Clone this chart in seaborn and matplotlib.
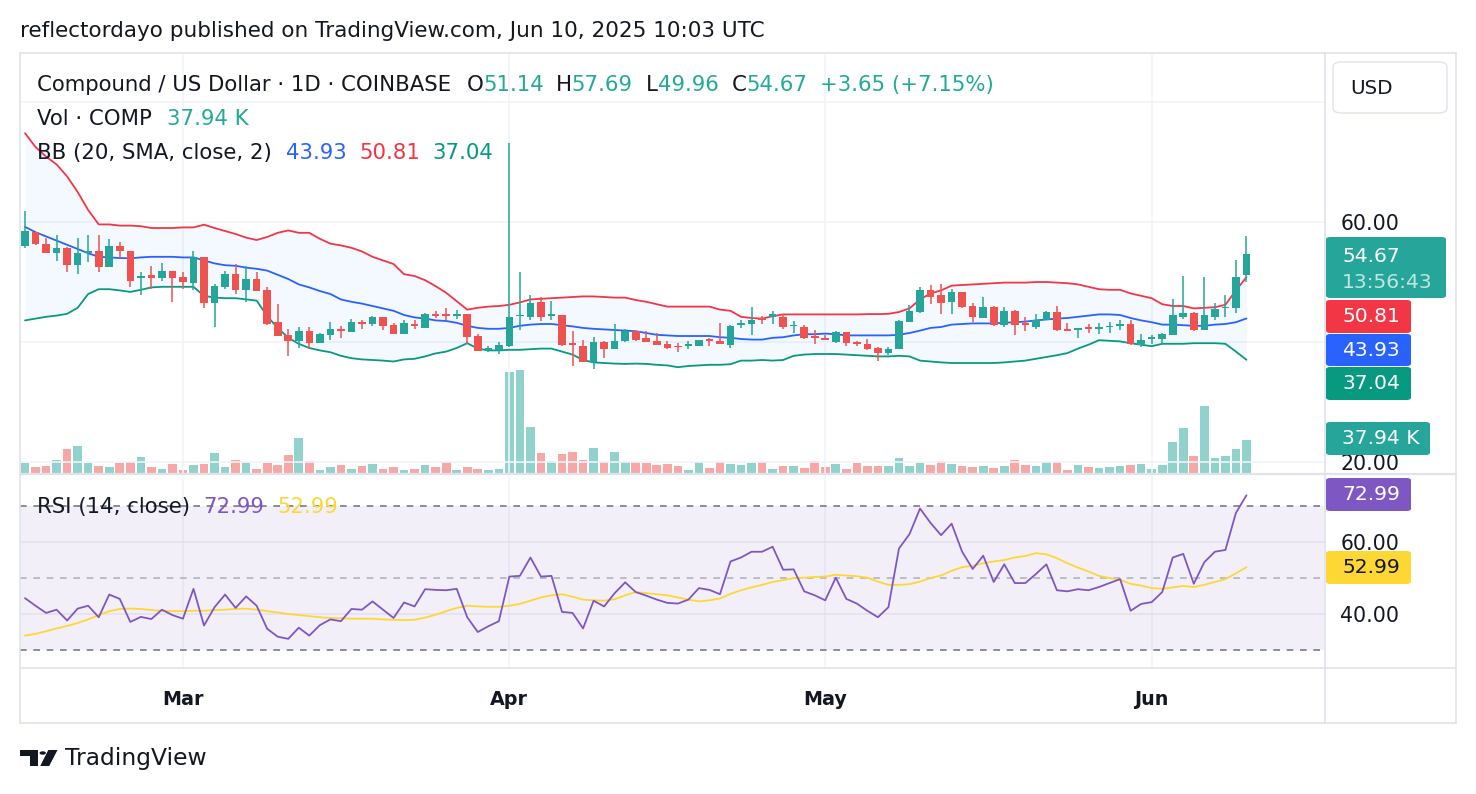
import numpy as np
import pandas as pd
import matplotlib
matplotlib.use("Agg")
import matplotlib.pyplot as plt
import seaborn as sns
from matplotlib.patches import FancyBboxPatch, Polygon, Circle
from matplotlib.lines import Line2D

# ---------------- data ----------------
start_date = "2025-02-14"
opens = [55.97, 58.3, 56.36, 54.8, 55.7, 52.77, 54.8, 55.1, 52.55, 56.08,
         55.2, 50.59, 51.2, 50.64, 51.9, 50.76, 49.9, 54.2, 46.55, 49.1,
         51.3, 48.6, 50.5, 48.6, 43.3, 41.1, 40.1, 41.8, 39.8, 41.2,
         42.1, 41.7, 43.3, 43.0, 44.1, 42.8, 41.4, 43.0, 42.35, 44.7,
         44.7, 44.4, 44.6, 40.95, 38.6, 38.6, 39.27, 44.3, 44.2, 46.67,
         44.4, 44.5, 39.8, 39.27, 36.75, 39.94, 38.9, 40.1, 41.8, 40.67,
         40.1, 39.66, 39.4, 39.4, 39.4, 40.5, 40.2, 39.55, 42.8, 43.0,
         44.0, 44.2, 44.15, 42.6, 42.46, 40.95, 40.67, 40.0, 41.6, 40.0,
         39.66, 38.99, 38.15, 38.8, 43.36, 44.99, 48.6, 47.84, 46.72, 48.35,
         45.99, 44.03, 45.88, 42.91, 45.15, 43.2, 42.46, 43.75, 44.99, 42.1,
         42.07, 42.5, 42.2, 42.5, 42.74, 43.0, 39.44, 40.5, 40.5, 41.24,
         44.2, 44.87, 41.96, 44.2, 45.6, 45.6, 51.14]
highs = [61.79, 58.4, 57.3, 57.9, 55.8, 57.3, 57.76, 57.76, 57.2, 56.75,
         55.2, 51.7, 52.7, 53.1, 51.9, 51.7, 55.2, 54.2, 49.6, 51.9,
         53.0, 52.7, 51.6, 49.1, 46.3, 42.2, 42.5, 42.5, 41.5, 43.3,
         42.75, 43.9, 43.75, 44.4, 44.1, 43.1, 43.75, 43.6, 44.9, 45.15,
         45.6, 45.4, 44.7, 41.3, 39.27, 40.0, 73.17, 51.7, 47.84, 47.5,
         46.8, 44.5, 41.8, 40.4, 40.8, 40.1, 43.0, 42.25, 41.9, 41.9,
         41.5, 40.2, 39.8, 40.1, 40.4, 40.67, 43.1, 42.9, 43.75, 45.8,
         44.3, 45.15, 44.6, 43.47, 42.9, 41.96, 41.2, 41.8, 41.6, 40.2,
         40.5, 39.1, 39.1, 43.75, 46.1, 49.19, 49.5, 49.64, 48.8, 48.35,
         46.44, 47.5, 45.99, 45.82, 45.3, 44.15, 44.7, 45.15, 45.99, 43.1,
         42.35, 43.0, 43.1, 43.36, 43.75, 43.64, 41.4, 41.1, 41.5, 47.1,
         50.92, 44.99, 50.76, 46.44, 47.84, 53.73, 57.69]
lows = [55.7, 56.2, 54.8, 53.56, 51.6, 51.4, 53.3, 51.6, 52.5, 53.95,
        49.1, 47.84, 48.9, 50.2, 46.7, 48.9, 48.6, 45.7, 42.5, 48.8,
        48.07, 46.7, 48.5, 42.9, 41.07, 37.7, 39.0, 38.9, 39.8, 40.4,
        40.7, 41.7, 42.2, 42.75, 41.96, 41.4, 41.4, 42.2, 42.35, 44.0,
        43.6, 43.9, 39.7, 38.43, 38.3, 38.04, 39.1, 42.07, 43.75, 43.47,
        43.6, 39.4, 36.0, 36.75, 35.5, 37.3, 38.9, 40.0, 40.1, 40.0,
        39.55, 38.8, 38.3, 38.9, 39.4, 39.27, 39.66, 39.0, 42.35, 41.1,
        43.0, 43.0, 42.24, 41.5, 40.5, 39.7, 40.4, 39.8, 39.4, 39.27,
        38.6, 36.9, 37.76, 38.8, 43.36, 44.87, 46.27, 44.6, 44.6, 45.7,
        43.36, 44.03, 42.63, 42.5, 41.2, 41.8, 42.2, 43.75, 41.8, 41.8,
        40.67, 41.5, 41.35, 41.5, 41.96, 39.55, 39.1, 39.66, 39.66, 41.24,
        43.86, 41.8, 41.96, 43.64, 44.2, 44.9, 49.96]
closes = [58.43, 56.3, 54.8, 55.6, 52.77, 54.8, 55.1, 52.55, 56.08, 55.1,
          50.2, 51.04, 50.64, 51.9, 50.64, 50.03, 54.1, 46.55, 49.36, 51.3,
          48.6, 50.5, 48.5, 43.0, 41.07, 40.2, 41.8, 39.8, 41.4, 42.2,
          41.8, 43.3, 43.0, 44.1, 42.75, 41.4, 43.2, 42.75, 44.6, 44.4,
          44.4, 44.7, 40.8, 38.43, 39.0, 39.55, 44.15, 44.5, 46.44, 44.2,
          44.7, 39.55, 39.5, 36.75, 39.94, 38.9, 40.2, 41.8, 40.4, 40.0,
          39.55, 39.0, 39.1, 39.66, 40.4, 40.2, 39.66, 42.63, 43.2, 43.64,
          43.64, 44.6, 42.46, 42.9, 40.67, 40.67, 40.4, 41.6, 39.83, 39.66,
          38.8, 38.15, 38.88, 43.47, 45.15, 48.68, 47.56, 46.55, 48.35, 45.88,
          44.2, 45.82, 42.91, 45.15, 42.91, 42.9, 43.75, 44.99, 41.96, 41.8,
          42.35, 42.2, 42.46, 42.74, 43.0, 39.7, 40.4, 40.78, 41.35, 44.5,
          44.76, 41.96, 44.48, 45.43, 45.88, 50.87, 54.67]
volume_k = [12.4, 7.5, 8.6, 16.1, 28.1, 31.1, 12.4, 8.6, 7.5, 12.4,
            13.1, 19.1, 7.5, 6.0, 11.3, 4.1, 9.8, 11.3, 23.6, 7.5,
            15.4, 12.4, 6.0, 12.4, 9.8, 21.0, 40.5, 14.3, 4.9, 7.5,
            9.8, 6.0, 8.6, 11.3, 6.0, 7.5, 4.1, 6.0, 9.8, 7.5,
            13.1, 4.1, 7.5, 5.6, 4.1, 6.0, 114.4, 116.6, 52.5, 23.6,
            14.3, 22.5, 24.4, 16.1, 29.3, 13.1, 24.4, 13.1, 13.1, 12.4,
            9.8, 11.3, 8.6, 4.1, 13.1, 6.8, 13.1, 11.3, 9.8, 12.4,
            13.1, 5.6, 8.6, 8.6, 6.8, 14.3, 7.5, 11.3, 5.6, 12.4,
            8.6, 8.6, 8.6, 18.0, 8.6, 12.4, 9.8, 14.3, 11.3, 8.6,
            7.5, 8.6, 6.8, 8.6, 15.4, 9.8, 8.6, 13.1, 13.1, 4.1,
            9.8, 7.5, 6.8, 7.5, 8.6, 9.8, 11.3, 5.6, 9.8, 35.6,
            51.8, 19.9, 76.1, 18.0, 19.9, 28.1, 37.94]
bb_upper = [74.8, 72.5, 70.9, 69.6, 67.6, 65.0, 62.0, 59.6, 59.6, 59.4,
            59.4, 59.3, 59.0, 59.0, 59.0, 59.1, 59.1, 59.55, 59.0, 58.5,
            58.0, 57.4, 57.0, 57.5, 58.2, 58.6, 58.2, 58.2, 57.2, 56.4,
            56.1, 55.7, 55.1, 54.2, 53.6, 53.0, 51.3, 51.0, 50.3, 49.3,
            48.2, 46.8, 45.4, 45.7, 45.9, 46.0, 46.2, 46.6, 47.1, 47.2,
            47.3, 47.4, 47.5, 47.6, 47.6, 47.5, 47.4, 47.4, 47.0, 46.7,
            46.3, 45.9, 45.9, 45.9, 45.9, 45.9, 45.4, 45.2, 44.2, 44.0,
            43.9, 44.3, 44.6, 44.6, 44.6, 44.6, 44.6, 44.6, 44.6, 44.6,
            44.65, 44.65, 44.7, 45.0, 45.6, 47.1, 48.1, 48.6, 49.4, 49.5,
            49.6, 49.7, 49.8, 49.9, 49.9, 49.9, 50.0, 50.0, 49.9, 49.8,
            49.6, 49.2, 48.8, 48.7, 48.7, 48.1, 47.7, 47.3, 46.3, 46.0,
            46.0, 45.6, 45.7, 45.8, 46.2, 48.6, 50.81]
bb_basis = [59.2, 58.3, 57.6, 56.9, 56.2, 55.5, 54.8, 54.2, 54.1, 54.0,
            53.95, 54.1, 54.2, 54.2, 54.2, 54.1, 54.1, 53.6, 53.1, 52.8,
            52.7, 52.4, 52.2, 51.9, 51.2, 50.5, 49.6, 49.1, 48.5, 48.0,
            47.1, 46.7, 46.4, 46.0, 45.6, 45.2, 44.5, 44.1, 43.9, 43.6,
            43.5, 43.2, 42.7, 42.35, 42.2, 42.2, 42.35, 42.7, 42.9, 43.0,
            43.0, 42.8, 42.6, 42.35, 42.2, 42.1, 42.0, 41.9, 41.8, 41.5,
            41.2, 41.1, 41.0, 41.0, 41.0, 41.0, 40.8, 40.7, 40.5, 40.4,
            40.4, 40.7, 40.8, 41.1, 41.3, 41.3, 41.4, 41.3, 41.1, 41.1,
            41.1, 41.1, 41.1, 41.2, 41.5, 41.9, 42.35, 42.5, 42.9, 43.0,
            43.1, 43.1, 43.1, 43.2, 43.3, 43.4, 43.6, 43.75, 43.9, 44.0,
            44.2, 44.4, 44.6, 44.6, 44.5, 44.0, 43.6, 43.3, 42.9, 42.9,
            42.8, 42.7, 42.7, 42.9, 43.0, 43.3, 43.93]
bb_lower = [43.6, 43.9, 44.2, 44.4, 44.7, 45.7, 48.0, 48.8, 48.8, 48.6,
            48.35, 48.7, 49.1, 49.2, 49.2, 49.2, 49.2, 47.7, 47.4, 47.3,
            47.3, 47.1, 46.9, 44.3, 42.35, 40.7, 39.7, 39.0, 38.6, 38.3,
            37.7, 37.3, 37.1, 37.0, 36.9, 36.75, 37.1, 37.2, 37.6, 38.1,
            38.4, 39.0, 39.8, 38.9, 38.6, 38.6, 38.7, 38.7, 38.8, 38.9,
            38.9, 38.4, 37.9, 37.0, 36.6, 36.5, 36.4, 36.35, 36.4, 36.35,
            36.2, 36.1, 35.8, 36.0, 36.1, 36.2, 36.2, 36.3, 36.9, 36.9,
            37.0, 36.9, 37.0, 37.7, 37.9, 38.0, 38.0, 38.0, 37.9, 37.8,
            37.7, 37.6, 37.6, 37.7, 37.6, 36.9, 36.75, 36.6, 36.5, 36.5,
            36.5, 36.5, 36.5, 36.6, 36.75, 36.9, 37.2, 37.5, 37.8, 38.15,
            38.9, 39.55, 40.3, 40.2, 40.1, 39.8, 39.55, 39.3, 39.7, 39.7,
            39.7, 39.8, 39.8, 39.8, 39.7, 38.4, 37.04]
rsi = [44.4, 42.3, 40.3, 41.2, 38.2, 41.5, 42.3, 39.1, 45.4, 44.2,
       37.8, 39.2, 38.6, 41.2, 39.7, 38.7, 47.0, 36.8, 41.9, 45.4,
       41.7, 44.9, 42.3, 35.9, 33.7, 33.1, 36.2, 34.0, 36.9, 38.5,
       38.0, 41.4, 41.2, 43.5, 41.2, 38.9, 43.2, 42.1, 46.9, 46.7,
       46.6, 47.0, 39.1, 35.0, 36.6, 38.0, 50.4, 50.6, 55.7, 50.4,
       50.6, 40.6, 40.3, 36.0, 43.7, 42.1, 45.8, 48.8, 46.1, 45.1,
       44.0, 43.1, 42.9, 44.0, 47.2, 46.7, 45.5, 54.6, 55.7, 57.3,
       57.3, 58.7, 52.3, 52.4, 46.3, 45.2, 43.8, 50.1, 44.2, 42.9,
       40.9, 39.1, 41.9, 58.2, 62.2, 69.3, 65.3, 61.9, 65.1, 57.3,
       52.5, 56.2, 48.9, 53.8, 48.6, 48.6, 51.1, 53.8, 46.6, 46.3,
       46.9, 46.6, 47.5, 48.6, 49.7, 40.9, 42.8, 43.3, 46.1, 55.7,
       56.7, 48.4, 54.4, 57.3, 57.8, 68.1, 72.99]
rsi_ma = [34.0, 34.5, 35.2, 36.0, 36.7, 37.5, 38.5, 39.7, 40.8, 41.4,
          41.5, 41.4, 41.1, 40.9, 40.8, 40.8, 40.9, 40.9, 41.1, 41.2,
          41.4, 41.5, 41.2, 40.8, 40.4, 40.0, 39.7, 39.4, 39.1, 38.9,
          38.8, 38.7, 38.7, 38.7, 38.5, 38.4, 38.3, 38.4, 39.0, 39.8,
          40.8, 41.7, 42.3, 42.1, 42.0, 42.0, 42.3, 42.8, 43.7, 44.6,
          45.2, 45.5, 44.8, 44.0, 43.8, 43.7, 44.1, 45.2, 46.1, 45.8,
          45.5, 45.2, 44.6, 44.0, 43.5, 43.8, 44.3, 45.6, 46.6, 47.4,
          48.1, 48.9, 49.4, 50.0, 50.1, 50.3, 50.4, 50.9, 50.7, 50.5,
          50.1, 49.0, 48.1, 48.1, 48.3, 49.0, 50.0, 50.7, 52.0, 53.0,
          53.4, 54.1, 54.6, 55.0, 55.7, 56.1, 56.9, 56.6, 55.5, 54.1,
          52.9, 51.8, 50.6, 50.0, 49.5, 48.4, 47.9, 47.2, 47.0, 47.4,
          47.8, 47.5, 48.1, 48.9, 49.7, 51.3, 52.99]
month_ticks = ["2025-03-01", "2025-04-01", "2025-05-01", "2025-06-01"]
month_labels = ["Mar", "Apr", "May", "Jun"]

# ---------------- styling ----------------
W, H = 1476, 794
UP, DOWN = "#26a69a", "#ef5350"
TXT = "#131722"
GRID = "#f0f3fa"
BORDER = "#e0e3eb"

sns.set_theme(style="white")
plt.rcParams['font.family'] = ['DejaVu Sans']
plt.rcParams['axes.linewidth'] = 0

df = pd.DataFrame({
    "date": pd.date_range(start_date, periods=len(closes), freq="D"),
    "open": opens, "high": highs, "low": lows, "close": closes,
    "vol": volume_k, "upper": bb_upper, "basis": bb_basis, "lower": bb_lower,
    "rsi": rsi, "rsi_ma": rsi_ma,
})
df["up"] = df["close"] >= df["open"]
df["color"] = np.where(df["up"], UP, DOWN)

fig = plt.figure(figsize=(W / 100, H / 100), dpi=100)
fig.patch.set_facecolor("white")


def fx(x):
    return x / W


def fy(y):
    return 1 - y / H


def rect(x0, y0, x1, y1):
    return [fx(x0), fy(y1), fx(x1) - fx(x0), fy(y0) - fy(y1)]


ax = fig.add_axes(rect(20, 53, 1325, 474))
axv = ax.twinx()
axr = fig.add_axes(rect(20, 474, 1325, 668), sharex=ax)
ax.set_zorder(3)
axv.set_zorder(2)
axr.set_zorder(2)
ax.patch.set_visible(False)

d0 = df["date"].iloc[0]
xmin = d0 - pd.Timedelta(days=0.475)
xmax = d0 + pd.Timedelta(days=123.46)

# volume
axv.bar(df["date"], df["vol"], width=0.82, color=df["color"], alpha=0.5, linewidth=0)
axv.set_ylim(0, 474)
axv.set_yticks([])
axv.grid(False)

# price grid
for v in [20, 40, 60, 80]:
    ax.axhline(v, color=GRID, lw=1.2, zorder=0)
for m in month_ticks:
    ax.axvline(pd.Timestamp(m), color=GRID, lw=1.2, zorder=0)
    axr.axvline(pd.Timestamp(m), color=GRID, lw=1.2, zorder=0)

# bollinger
ax.fill_between(df["date"], df["lower"], df["upper"], color="#2196f3", alpha=0.05, lw=0, zorder=1)
sns.lineplot(data=df, x="date", y="upper", ax=ax, color="#f23645", lw=1.3, zorder=2)
sns.lineplot(data=df, x="date", y="basis", ax=ax, color="#2962ff", lw=1.3, zorder=2)
sns.lineplot(data=df, x="date", y="lower", ax=ax, color="#089981", lw=1.3, zorder=2)

# candles
ax.vlines(df["date"], df["low"], df["high"], colors=df["color"], lw=1.1, zorder=4)
body_lo = np.minimum(df["open"], df["close"])
body_h = np.maximum((df["close"] - df["open"]).abs(), 0.17)
ax.bar(df["date"], body_h, bottom=body_lo, width=0.72, color=df["color"], linewidth=0, zorder=5)

ax.set_ylim(18.0, 88.17)
ax.set_xlim(xmin, xmax)
ax.set_xlabel("")
ax.set_ylabel("")
ax.yaxis.tick_right()
ax.set_yticks([20, 60])
ax.set_yticklabels(["20.00", "60.00"])
ax.tick_params(axis="y", length=0, pad=11, labelsize=14.8, labelcolor=TXT)
ax.tick_params(axis="x", length=0, labelbottom=False)
for s in ax.spines.values():
    s.set_visible(False)
for s in axv.spines.values():
    s.set_visible(False)

# RSI pane
axr.axhspan(30, 70, color="#7e57c2", alpha=0.09, lw=0, zorder=0)
for v in [40, 60]:
    axr.axhline(v, color="#e4e1ee", lw=1.2, zorder=1)
axr.axhline(70, color="#787b86", lw=1.2, ls=(0, (4, 4)), zorder=2)
axr.axhline(30, color="#787b86", lw=1.2, ls=(0, (4, 4)), zorder=2)
axr.axhline(50, color="#b2b5be", lw=1.2, ls=(0, (4, 4)), zorder=2)
sns.lineplot(data=df, x="date", y="rsi_ma", ax=axr, color="#fdd835", lw=1.3, zorder=3)
sns.lineplot(data=df, x="date", y="rsi", ax=axr, color="#7e57c2", lw=1.3, zorder=4)
axr.set_ylim(25.0, 78.9)
axr.set_xlim(xmin, xmax)
axr.set_xlabel("")
axr.set_ylabel("")
axr.yaxis.tick_right()
axr.set_yticks([40, 60])
axr.set_yticklabels(["40.00", "60.00"])
axr.tick_params(axis="y", length=0, pad=11, labelsize=14.8, labelcolor=TXT)
axr.set_xticks([pd.Timestamp(m) for m in month_ticks])
axr.set_xticklabels(month_labels)
axr.tick_params(axis="x", length=0, pad=16, labelsize=13.8, labelcolor=TXT)
for lab in axr.get_xticklabels():
    lab.set_fontweight("bold")
for s in axr.spines.values():
    s.set_visible(False)

# ---------------- frame lines ----------------
def hline(y, x0, x1, c=BORDER, lw=1.2):
    fig.add_artist(Line2D([fx(x0), fx(x1)], [fy(y), fy(y)], color=c, lw=lw, zorder=10))


def vline(x, y0, y1, c=BORDER, lw=1.2):
    fig.add_artist(Line2D([fx(x), fx(x)], [fy(y0), fy(y1)], color=c, lw=lw, zorder=10))


hline(53, 20, 1456)
hline(723, 20, 1456)
hline(474, 20, 1456, lw=1.6)
hline(668, 20, 1456)
vline(20, 53, 723)
vline(1456, 53, 723)
vline(1325, 53, 723)

# ---------------- texts ----------------
def t(x, y, s, c=TXT, size=15.3, **kw):
    fig.text(fx(x), fy(y), s, color=c, fontsize=size, va="center", ha="left", **kw)


t(20, 31, "reflectordayo published on TradingView.com, Jun 10, 2025 10:03 UTC", size=15.5)

G = "#22ab94"
hs = 15.3
t(37, 85, "Compound / US Dollar · 1D · COINBASE", size=hs)
t(467, 85, "O", size=hs); t(483, 85, "51.14", G, size=hs)
t(556, 85, "H", size=hs); t(571, 85, "57.69", G, size=hs)
t(646, 85, "L", size=hs); t(658, 85, "49.96", G, size=hs)
t(732, 85, "C", size=hs); t(746, 85, "54.67", G, size=hs)
t(820, 85, "+3.65 (+7.15%)", G, size=hs)
t(37, 119, "Vol · COMP", size=hs); t(167, 119, "37.94 K", G, size=hs)
t(37, 153, "BB (20, SMA, close, 2)", size=hs)
t(286, 153, "43.93", "#2962ff", size=hs)
t(359, 153, "50.81", "#f23645", size=hs)
t(432, 153, "37.04", "#089981", size=hs)
t(37, 507, "RSI (14, close)", size=hs)
t(203, 507, "72.99", "#7e57c2", size=hs)
t(277, 507, "52.99", "#fdd835", size=hs)

# price scale labels
def box(x0, y0, x1, y1, fc):
    fig.add_artist(FancyBboxPatch((fx(x0), fy(y1)), fx(x1) - fx(x0), fy(y0) - fy(y1),
                                  boxstyle="round,pad=0,rounding_size=0.003",
                                  transform=fig.transFigure, fc=fc, ec="none", zorder=11))


LS = 14.6


def blabel(y0, y1, x1, s, fc, tc="white"):
    box(1326, y0, x1, y1, fc)
    fig.text(fx(1342), fy((y0 + y1) / 2), s, color=tc, fontsize=LS, va="center", ha="left", zorder=12)


box(1326, 237, 1446, 298, "#26a69a")
fig.text(fx(1342), fy(256), "54.67", color="white", fontsize=LS, va="center", zorder=12)
fig.text(fx(1342), fy(283), "13:56:43", color="#bfe6e2", fontsize=LS, va="center", zorder=12)
blabel(300, 333, 1411, "50.81", "#f23645")
blabel(334, 366, 1411, "43.93", "#2962ff")
blabel(367, 400, 1411, "37.04", "#089981")
blabel(422, 455, 1430, "37.94 K", "#26a69a")
blabel(478, 511, 1411, "72.99", "#7e57c2")
blabel(551, 584, 1411, "52.99", "#fdd835", tc=TXT)

# USD button
fig.add_artist(FancyBboxPatch((fx(1333), fy(113)), fx(1447) - fx(1333), fy(62) - fy(113),
                              boxstyle="round,pad=0,rounding_size=0.006",
                              transform=fig.transFigure, fc="white", ec=BORDER, lw=1.0, zorder=11))
fig.text(fx(1350), fy(88), "USD", color=TXT, fontsize=14.3, va="center", zorder=12)

# TradingView logo
def poly(pts, c=TXT):
    fig.add_artist(Polygon([(fx(x), fy(y)) for x, y in pts], closed=True,
                           transform=fig.transFigure, fc=c, ec="none", zorder=11))


poly([(20, 750), (37.7, 750), (37.7, 766), (30, 766), (30, 756), (20, 756)])
fig.add_artist(Circle((fx(42.7), fy(753)), 3.2 / W, transform=fig.transFigure, fc=TXT, ec="none", zorder=11))
poly([(48.3, 750), (57.5, 750), (49.2, 766), (40.2, 766)])
t(65, 758, "TradingView", size=16.8)

fig.savefig("out.png", dpi=100, facecolor="white")
